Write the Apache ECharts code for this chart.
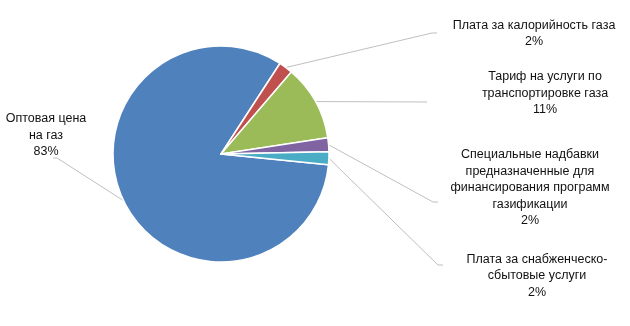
<!DOCTYPE html>
<html><head><meta charset="utf-8">
<script src="https://cdn.jsdelivr.net/npm/echarts@6/dist/echarts.min.js"></script>
<style>html,body{margin:0;padding:0;background:#fff}#c{width:630px;height:326px}</style>
</head><body><div id="c"></div>
<script>
const categories = [
  'Оптовая цена\nна газ',
  'Плата за калорийность газа',
  'Тариф на услуги по\nтранспортировке газа',
  'Специальные надбавки\nпредназначенные для\nфинансирования программ\nгазификации',
  'Плата за снабженческо-\nсбытовые услуги'
];
const values = [82.6, 2.1, 11.3, 2.1, 1.9];
const colors = ['#4F81BD', '#C0504D', '#9BBB59', '#8064A2', '#4BACC6'];

// layout (label centres and leader line ends)
const labelPos = [[46, 135.5], [534, 33.5], [545, 93.5], [530, 188], [537, 276]];
const lineEnds = [[[57, 158], [53, 158]], [[432, 33], [437, 33]], [[427, 102], [427, 102]], [[433, 202], [438, 202]], [[438, 265], [443, 265]]];
const cx = 221, cy = 154, R = 108, startAngle = -5.7;

const total = values.reduce((a, b) => a + b, 0);
function midPoint(i) {
  let before = 0;
  for (let k = 0; k < i; k++) before += values[k];
  const midFrac = (before + values[i] / 2) / total;
  const ang = (startAngle - midFrac * 360) * Math.PI / 180;
  return [cx + R * Math.cos(ang), cy - R * Math.sin(ang)];
}

const chart = echarts.init(document.getElementById('c'), null, {renderer: 'canvas'});
chart.setOption({
  animation: false,
  series: [{
    type: 'pie',
    center: [cx, cy],
    radius: [0, R],
    startAngle: startAngle,
    clockwise: true,
    data: categories.map((n, i) => ({name: n, value: values[i], itemStyle: {color: colors[i]}})),
    itemStyle: {borderColor: '#fff', borderWidth: 1.5},
    label: {
      show: true,
      overflow: 'none',
      formatter: p => p.name + '\n' + Math.round(p.percent) + '%',
      fontFamily: 'Liberation Sans, Arial, sans-serif',
      fontSize: 12.5,
      lineHeight: 16.5,
      color: '#111',
      align: 'center'
    },
    labelLine: {show: true, lineStyle: {color: '#BFBFBF', width: 1}, smooth: false},
    labelLayout: function (params) {
      const i = params.dataIndex;
      const s = midPoint(i);
      return {
        x: labelPos[i][0], y: labelPos[i][1],
        align: 'center', verticalAlign: 'middle',
        labelLinePoints: [s, lineEnds[i][0], lineEnds[i][1]]
      };
    }
  }]
});
</script></body></html>
